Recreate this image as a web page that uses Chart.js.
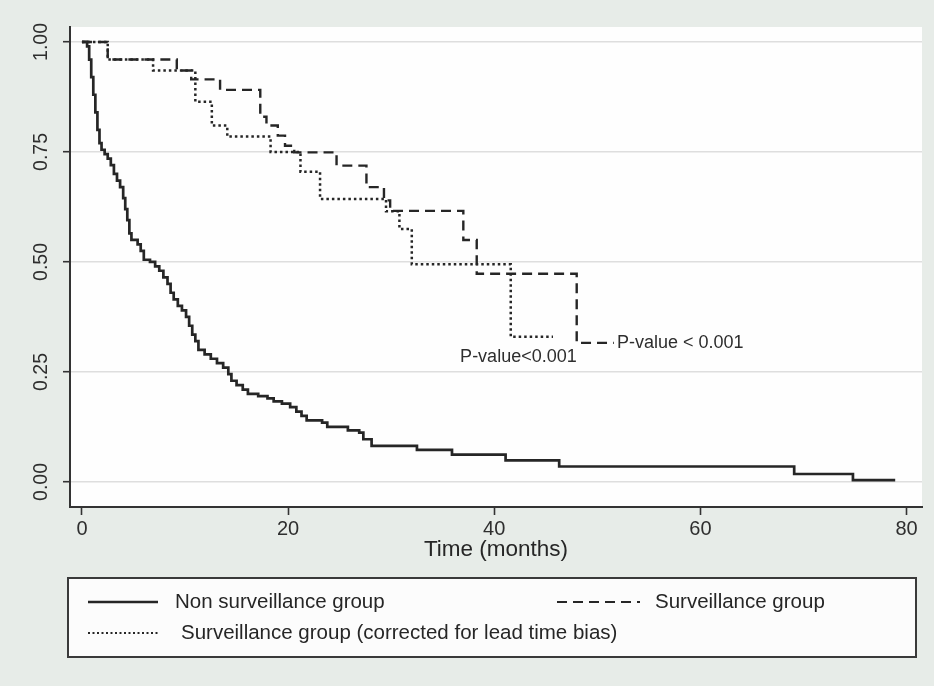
<!DOCTYPE html>
<html><head><meta charset="utf-8">
<script src="https://cdn.jsdelivr.net/npm/chart.js@4.4.1/dist/chart.umd.min.js"></script>
<style>html,body{margin:0;padding:0;background:#e7ece8;}#wrap{width:934px;height:686px;position:relative}</style>
</head><body><div id="wrap"><canvas id="c" width="934" height="686"></canvas></div>
<script>
// ---- data ----
const xTicks = [0, 20, 40, 60, 80];
const yTicks = [0, 0.25, 0.5, 0.75, 1];
const yTickLabels = ['0.00', '0.25', '0.50', '0.75', '1.00'];
const xTitle = 'Time (months)';
const seriesNames = ['Non surveillance group', 'Surveillance group', 'Surveillance group (corrected for lead time bias)'];
const pLabels = ['P-value<0.001', 'P-value < 0.001'];

const nonSurvTime = [0,0.5,0.7,0.9,1.1,1.3,1.5,1.7,1.9,2.2,2.5,2.8,3.1,3.4,3.7,4.0,4.2,4.4,4.6,4.8,5.4,5.7,6.0,6.6,7.1,7.5,7.9,8.3,8.6,8.9,9.3,9.7,10.1,10.4,10.7,11.0,11.3,11.9,12.5,13.1,13.7,14.2,14.5,15.0,15.6,16.1,17.1,18.0,18.6,19.4,20.2,20.8,21.3,21.8,23.3,23.8,25.8,26.9,27.3,28.1,32.5,35.9,41.1,46.3,69.1,74.8,78.9];
const nonSurvSurv = [1.0,0.99,0.96,0.92,0.88,0.84,0.80,0.77,0.755,0.745,0.735,0.72,0.70,0.685,0.67,0.645,0.62,0.595,0.565,0.55,0.54,0.525,0.505,0.50,0.49,0.48,0.465,0.45,0.43,0.415,0.40,0.39,0.375,0.355,0.335,0.32,0.30,0.29,0.28,0.27,0.26,0.245,0.23,0.22,0.21,0.20,0.195,0.19,0.183,0.178,0.17,0.16,0.15,0.14,0.135,0.125,0.117,0.112,0.097,0.082,0.073,0.062,0.049,0.035,0.018,0.004,0.004];

const survTime = [0,2.5,9.2,10.6,13.4,17.3,17.9,19.0,19.7,20.6,24.7,27.6,29.3,29.9,37.0,38.3,48.0,51.6];
const survSurv = [1.0,0.96,0.935,0.915,0.891,0.83,0.81,0.787,0.764,0.749,0.719,0.670,0.640,0.616,0.55,0.473,0.316,0.316];

const corrTime = [0,2.5,6.9,11.0,12.6,14.1,18.3,21.2,23.1,29.5,30.8,32.0,41.6,45.7];
const corrSurv = [1.0,0.96,0.935,0.864,0.81,0.785,0.75,0.705,0.643,0.615,0.575,0.495,0.33,0.33];

// ---- helpers ----
const FONT = '"Liberation Sans", Arial, Helvetica, sans-serif';
const INK = '#262626';
const toXY = (t, s) => t.map((v, i) => ({x: v, y: s[i]}));
const styles = [
  {borderWidth: 2.7, dash: []},
  {borderWidth: 2.4, dash: [10, 6]},
  {borderWidth: 2.5, dash: [2.5, 3]}
];

const decor = {
  id: 'decor',
  beforeDraw(chart) {
    const {ctx, chartArea: a} = chart;
    ctx.save();
    ctx.fillStyle = '#e7ece8';
    ctx.fillRect(0, 0, chart.width, chart.height);
    ctx.fillStyle = '#fefefe';
    ctx.fillRect(a.left, a.top, a.right - a.left, a.bottom - a.top);
    ctx.restore();
  },
  afterDraw(chart) {
    const {ctx} = chart;
    const xs = chart.scales.x, ys = chart.scales.y;
    ctx.save();
    ctx.fillStyle = '#2e2e2e';
    // rotated y tick labels
    ctx.font = '19.5px ' + FONT;
    ctx.textAlign = 'center';
    ctx.textBaseline = 'middle';
    yTicks.forEach((v, i) => {
      ctx.save();
      ctx.translate(42, ys.getPixelForValue(v));
      ctx.rotate(-Math.PI / 2);
      ctx.fillText(yTickLabels[i], 0, 0);
      ctx.restore();
    });
    // p-value labels
    ctx.font = '18px ' + FONT;
    ctx.textAlign = 'right';
    ctx.fillText(pLabels[0], xs.getPixelForValue(48.0), ys.getPixelForValue(0.285));
    ctx.textAlign = 'left';
    ctx.fillText(pLabels[1], xs.getPixelForValue(51.9), ys.getPixelForValue(survSurv[survSurv.length - 1]));
    // legend box
    ctx.fillStyle = '#fcfcfc';
    ctx.fillRect(68, 578, 848, 79);
    ctx.strokeStyle = '#3a3a3a';
    ctx.lineWidth = 2;
    ctx.strokeRect(68, 578, 848, 79);
    const items = [
      {x0: 88, x1: 158, y: 602, tx: 175},
      {x0: 557, x1: 640, y: 602, tx: 655},
      {x0: 88, x1: 160, y: 633, tx: 181}
    ];
    ctx.font = '20.5px ' + FONT;
    ctx.textAlign = 'left';
    ctx.textBaseline = 'middle';
    items.forEach((it, i) => {
      ctx.strokeStyle = INK;
      ctx.lineWidth = i === 2 ? 2 : styles[i].borderWidth - 0.4;
      ctx.setLineDash(i === 2 ? [2, 2.5] : styles[i].dash);
      ctx.beginPath();
      ctx.moveTo(it.x0, it.y);
      ctx.lineTo(it.x1, it.y);
      ctx.stroke();
      ctx.setLineDash([]);
      ctx.fillStyle = '#262626';
      ctx.fillText(seriesNames[i], it.tx, it.y);
    });
    ctx.restore();
  }
};

const datasets = [
  toXY(nonSurvTime, nonSurvSurv),
  toXY(survTime, survSurv),
  toXY(corrTime, corrSurv)
].map((d, i) => ({
  label: seriesNames[i],
  data: d,
  stepped: true,
  fill: false,
  pointRadius: 0,
  borderColor: INK,
  borderWidth: styles[i].borderWidth,
  borderDash: styles[i].dash,
  borderCapStyle: 'butt',
  borderJoinStyle: 'miter'
}));

new Chart(document.getElementById('c'), {
  type: 'line',
  data: {datasets: datasets.reverse()},
  options: {
    responsive: false,
    animation: false,
    devicePixelRatio: 1,
    layout: {padding: {left: 10, right: 12, top: 27, bottom: 123}},
    plugins: {legend: {display: false}, tooltip: {enabled: false}},
    scales: {
      x: {
        type: 'linear',
        min: -1.16,
        max: 81.5,
        afterBuildTicks: s => { s.ticks = xTicks.map(v => ({value: v})); },
        afterFit: s => { s.height = 56; },
        border: {display: true, color: '#333', width: 2},
        grid: {display: true, drawOnChartArea: false, drawTicks: true, tickLength: 8, tickColor: '#333', tickWidth: 1.6},
        ticks: {color: '#2e2e2e', font: {family: FONT, size: 20}, padding: 2, maxRotation: 0, autoSkip: false},
        title: {display: true, text: xTitle, color: '#262626', font: {family: FONT, size: 22.5}, padding: {top: 0, bottom: 0}}
      },
      y: {
        type: 'linear',
        min: -0.057,
        max: 1.034,
        afterBuildTicks: s => { s.ticks = yTicks.map(v => ({value: v})); },
        afterFit: s => { s.width = 60; },
        border: {display: true, color: '#333', width: 2},
        grid: {display: true, color: '#dedede', lineWidth: 1.4, drawTicks: true, tickLength: 7, tickColor: '#333', tickWidth: 1.6},
        ticks: {display: false}
      }
    }
  },
  plugins: [decor]
});
</script>
</body></html>
